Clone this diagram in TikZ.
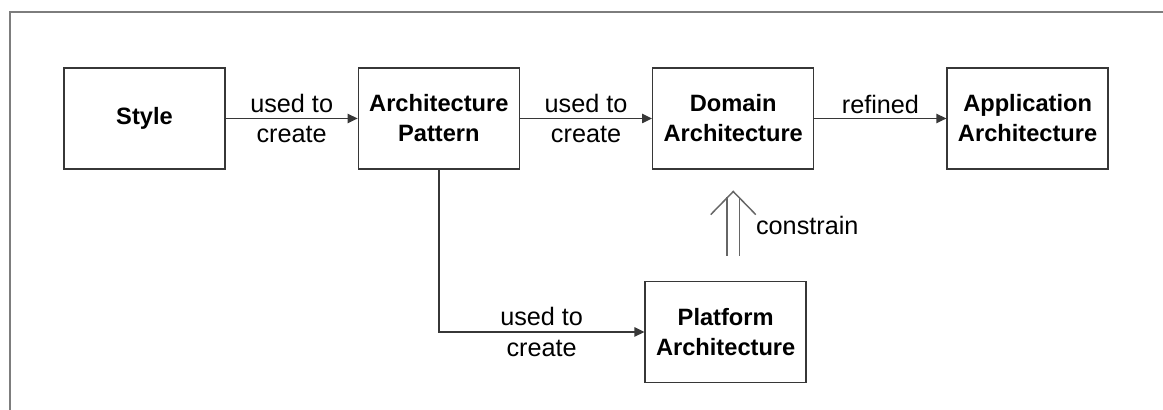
\documentclass[tikz,border=0pt]{standalone}
\usepackage{fontspec}
\setmainfont{Liberation Sans}
\usetikzlibrary{arrows.meta,positioning}
\definecolor{linegray}{RGB}{55,55,55}
\definecolor{framegray}{RGB}{125,125,125}
\tikzset{
  block/.style={rectangle, draw=linegray, line width=1.1pt,
                minimum width=4.26cm, minimum height=2.67cm, inner sep=2pt,
                align=center, font=\fontsize{17.8}{22.5}\selectfont\bfseries},
  arrow/.style={-{Triangle[length=7.5pt,width=7pt]}, line width=1.1pt, draw=linegray},
  lbl/.style={align=center, inner sep=1pt, font=\fontsize{19}{23}\selectfont},
  shaft/.style={double=white, double distance=0.28cm, line width=1.1pt, draw=black!60},
  barb/.style={-{Straight Barb[length=0.61cm,width=1.19cm]}, line width=1.1pt,
               draw=black!60},
  frame/.style={draw=framegray, line width=1.2pt}
}
\begin{document}
\begin{tikzpicture}[node distance=2.94cm and 3.49cm]
\useasboundingbox (-3.823,-7.713) rectangle (26.948,3.135);

% --- outer frame (cut at right and bottom) ---
\draw[frame] (-3.559,-7.8) |- (27.0,2.818);

% --- Top row ---
\node[block] (style) {Style};
\node[block, right=of style] (pat) {Architecture\\Pattern};
\node[block, right=of pat] (dom) {Domain\\Architecture};
\node[block, right=of dom] (app) {Application\\Architecture};

% --- Platform ---
\node[block, below=of dom, xshift=-0.2cm] (plat) {Platform\\Architecture};

% --- Arrows ---
\draw[arrow] (style) -- node[lbl, midway] {used to\\create} (pat);
\draw[arrow] (pat) -- node[lbl, midway] {used to\\create} (dom);
\draw[arrow] (dom) -- node[lbl, midway, above=2pt] {refined} (app);
\draw[arrow] (pat.south) |- node[lbl, pos=0.75] {used to\\create} (plat.west);

% --- constrain (double shaft, open head) ---
\draw[shaft, shorten <=0.66cm, shorten >=0.71cm] (plat.north -| dom.south)
  -- node[lbl, right=0.55cm, anchor=west] {constrain} (dom.south);
\draw[barb, shorten <=2.37cm, shorten >=0.55cm] (plat.north -| dom.south)
  -- (dom.south);

\end{tikzpicture}
\end{document}
